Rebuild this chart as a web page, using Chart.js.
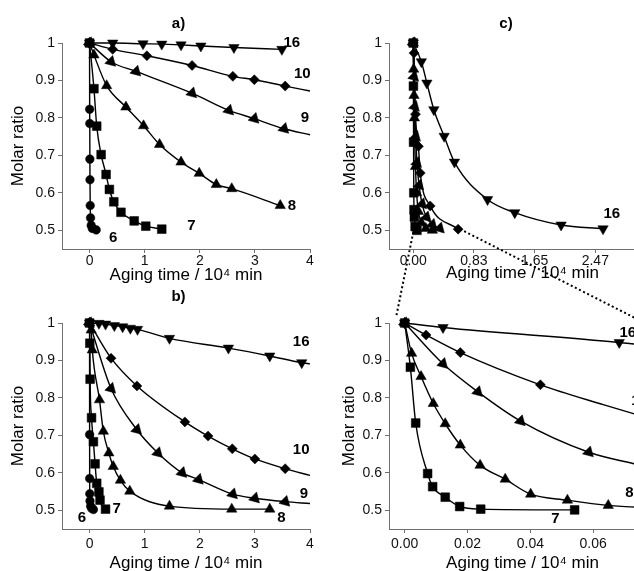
<!DOCTYPE html>
<html>
<head>
<meta charset="utf-8">
<script src="https://cdn.jsdelivr.net/npm/chart.js@4.4.0/dist/chart.umd.min.js"></script>
<style>
html,body{margin:0;padding:0;width:634px;height:571px;overflow:hidden;background:#fff;position:relative;}
canvas{position:absolute;}
#ov{pointer-events:none;}
</style>
</head>
<body>
<canvas id="ca" style="left:0px;top:0px" width="317" height="290"></canvas>
<canvas id="cb" style="left:0px;top:280px" width="317" height="300"></canvas>
<canvas id="cc" style="left:314px;top:0px" width="360" height="290"></canvas>
<canvas id="cd" style="left:314px;top:280px" width="360" height="300"></canvas>
<canvas id="ov" style="left:0px;top:0px" width="634" height="571"></canvas>
<script>
// ---------- tick labels ----------
const yTickValues = [0.5, 0.6, 0.7, 0.8, 0.9, 1.0];
const yTickLabels = ['0.5', '0.6', '0.7', '0.8', '0.9', '1'];
const abTickValues = [0, 1, 2, 3, 4];
const abTickLabels = ['0', '1', '2', '3', '4'];
const cTickValues = [0, 0.825, 1.65, 2.475, 3.3];
const cTickLabels = ['0.00', '0.83', '1.65', '2.47', '3.30'];
const dTickValues = [0, 0.02, 0.04, 0.06, 0.08];
const dTickLabels = ['0.00', '0.02', '0.04', '0.06', '0.08'];
const seriesNames = ['6', '7', '8', '9', '10', '16'];

// ---------- panel a) ----------
const a6X = [0, 0.002, 0.004, 0.006, 0.008, 0.012, 0.018, 0.03, 0.05, 0.12];
const a6Y = [1.0, 0.823, 0.785, 0.69, 0.635, 0.566, 0.533, 0.513, 0.505, 0.501];
const a7X = [0, 0.08, 0.13, 0.21, 0.30, 0.36, 0.44, 0.57, 0.81, 1.02, 1.31];
const a7Y = [1.0, 0.878, 0.778, 0.702, 0.649, 0.609, 0.576, 0.548, 0.525, 0.511, 0.503];
const a8X = [0, 0.08, 0.31, 0.66, 0.98, 1.27, 1.66, 1.99, 2.3, 2.58, 3.46];
const a8Y = [1.0, 0.968, 0.886, 0.829, 0.779, 0.729, 0.682, 0.652, 0.622, 0.611, 0.566];
const a9X = [0, 0.39, 0.845, 1.86, 2.53, 2.99, 3.53];
const a9Y = [1.0, 0.95, 0.924, 0.866, 0.82, 0.798, 0.771];
const a9ExtX = [4.0];
const a9ExtY = [0.755];
const a10X = [0, 0.42, 1.04, 1.86, 2.6, 2.99, 3.55];
const a10Y = [1.0, 0.983, 0.966, 0.94, 0.911, 0.902, 0.885];
const a10ExtX = [4.0];
const a10ExtY = [0.872];
const a16X = [0, 0.42, 0.97, 1.31, 1.66, 2.02, 2.62, 3.49];
const a16Y = [1.0, 1.0, 0.998, 0.997, 0.995, 0.992, 0.988, 0.983];

// ---------- panel b) ----------
const b6X = [0, 0.001, 0.002, 0.004, 0.008, 0.02, 0.04, 0.07];
const b6Y = [1.0, 0.702, 0.585, 0.544, 0.525, 0.511, 0.505, 0.502];
const b7X = [0, 0.005, 0.01, 0.036, 0.07, 0.1, 0.13, 0.17, 0.19, 0.29];
const b7Y = [1.0, 0.946, 0.85, 0.747, 0.683, 0.624, 0.572, 0.549, 0.527, 0.503];
const b8X = [0, 0.03, 0.05, 0.18, 0.25, 0.35, 0.43, 0.56, 0.73, 1.45, 2.58, 3.27];
const b8Y = [1.0, 0.981, 0.928, 0.795, 0.711, 0.653, 0.617, 0.58, 0.551, 0.511, 0.503, 0.503];
const b9X = [0, 0.39, 0.86, 1.24, 1.68, 1.98, 2.6, 3.0, 3.55];
const b9Y = [1.0, 0.825, 0.715, 0.653, 0.6, 0.582, 0.543, 0.532, 0.523];
const b9ExtX = [4.0];
const b9ExtY = [0.518];
const b10X = [0, 0.39, 0.86, 1.73, 2.15, 2.59, 3.0, 3.55];
const b10Y = [1.0, 0.906, 0.832, 0.736, 0.698, 0.664, 0.637, 0.611];
const b10ExtX = [4.0];
const b10ExtY = [0.593];
const b16X = [0, 0.17, 0.29, 0.45, 0.6, 0.74, 0.87, 1.45, 2.52, 3.27, 3.85];
const b16Y = [1.0, 0.999, 0.997, 0.993, 0.99, 0.986, 0.983, 0.959, 0.933, 0.912, 0.894];
const b16ExtX = [4.0];
const b16ExtY = [0.891];

// ---------- panel c) ----------
const c7X = [0, 0.002, 0.004, 0.007, 0.01, 0.015, 0.025, 0.05];
const c7Y = [1.0, 0.885, 0.735, 0.6, 0.555, 0.535, 0.51, 0.5];
const c8X = [0, 0.005, 0.01, 0.015, 0.02, 0.03, 0.045, 0.07, 0.11, 0.17, 0.26];
const c8Y = [1.0, 0.93, 0.86, 0.8, 0.74, 0.67, 0.6, 0.55, 0.52, 0.505, 0.5];
const c9X = [0, 0.01, 0.02, 0.035, 0.05, 0.08, 0.12, 0.18, 0.26, 0.36];
const c9Y = [1.0, 0.91, 0.83, 0.75, 0.68, 0.62, 0.57, 0.535, 0.515, 0.505];
const c10X = [0, 0.01, 0.03, 0.07, 0.095, 0.23, 0.61];
const c10Y = [1.0, 0.973, 0.81, 0.724, 0.653, 0.565, 0.503];
const c16X = [0, 0.11, 0.185, 0.28, 0.42, 0.56, 1.01, 1.38, 2.01, 2.58];
const c16Y = [1.0, 0.95, 0.893, 0.822, 0.751, 0.682, 0.582, 0.547, 0.514, 0.504];

// ---------- panel d) (zoom) ----------
const d7X = [0, 0.0018, 0.0035, 0.0073, 0.0089, 0.0129, 0.0175, 0.0242, 0.0541];
const d7Y = [1.0, 0.882, 0.733, 0.598, 0.563, 0.535, 0.51, 0.503, 0.501];
const d8X = [0, 0.0022, 0.0052, 0.0091, 0.0129, 0.0177, 0.024, 0.032, 0.0401, 0.0518, 0.0648];
const d8Y = [1.0, 0.919, 0.857, 0.785, 0.731, 0.674, 0.62, 0.583, 0.543, 0.527, 0.513];
const d8ExtX = [0.08];
const d8ExtY = [0.506];
const d9X = [0, 0.0122, 0.0233, 0.0369, 0.0586];
const d9Y = [1.0, 0.891, 0.816, 0.738, 0.655];
const d9ExtX = [0.0742, 0.08];
const d9ExtY = [0.622, 0.61];
const d10X = [0, 0.0068, 0.0177, 0.0432];
const d10Y = [1.0, 0.968, 0.921, 0.835];
const d10ExtX = [0.0632, 0.08];
const d10ExtY = [0.782, 0.74];
const d16X = [0, 0.0122, 0.0683];
const d16Y = [1.0, 0.988, 0.948];
const d16ExtX = [0.08];
const d16ExtY = [0.937];

// ---------- styling ----------
const FONT = "'Liberation Sans', Arial, sans-serif";
const AXIS_COLOR = '#707070';
const markerStyle = {
  '6':  { pointStyle: 'circle',   r: 4.3, rot: 0 },
  '7':  { pointStyle: 'rect',     r: 6.2, rot: 0 },
  '8':  { pointStyle: 'triangle', r: 6.0, rot: 0 },
  '9':  { pointStyle: 'triangle', r: 6.5, rot: 255 },
  '10': { pointStyle: 'rectRot',  r: 5.0, rot: 0 },
  '16': { pointStyle: 'triangle', r: 6.0, rot: 180 }
};

function buildDataset(name, xs, ys, extX, extY) {
  const ms = markerStyle[name];
  const pts = xs.map((v, i) => ({ x: v, y: ys[i] }));
  const ext = (extX || []).map((v, i) => ({ x: v, y: extY[i] }));
  const n = pts.length;
  return {
    label: name,
    data: pts.concat(ext),
    borderColor: '#000',
    borderWidth: 1.4,
    backgroundColor: '#000',
    pointBackgroundColor: '#000',
    pointBorderColor: '#000',
    pointBorderWidth: 0.5,
    pointStyle: ms.pointStyle,
    pointRotation: ms.rot,
    pointRadius: ctx => (ctx.dataIndex < n ? ms.r : 0),
    pointHoverRadius: 0,
    cubicInterpolationMode: 'monotone',
    fill: false,
    clip: false
  };
}

const panelDecor = {
  id: 'panelDecor',
  afterDatasetsDraw(chart, args, opts) {
    const { ctx, chartArea, scales } = chart;
    ctx.save();
    ctx.fillStyle = '#000';
    ctx.textAlign = 'center';
    ctx.textBaseline = 'middle';
    ctx.font = 'bold 15px ' + FONT;
    ctx.fillText(opts.title, (chartArea.left + chartArea.right) / 2 + opts.titleDX, chartArea.top + opts.titleDY);
    (opts.labels || []).forEach(l => {
      ctx.fillText(l.text, scales.x.getPixelForValue(l.x), scales.y.getPixelForValue(l.y));
    });
    ctx.restore();
  }
};

function makePanel(id, p) {
  return new Chart(document.getElementById(id), {
    type: 'line',
    data: { datasets: p.datasets },
    plugins: [panelDecor],
    options: {
      responsive: false,
      animation: false,
      devicePixelRatio: 1,
      events: [],
      layout: { padding: { top: 43, right: p.padR, left: 0, bottom: 0 } },
      plugins: {
        legend: { display: false },
        tooltip: { enabled: false },
        panelDecor: { title: p.title, titleDX: p.titleDX, titleDY: p.titleDY, labels: p.labels }
      },
      scales: {
        x: {
          type: 'linear',
          min: p.xMin, max: p.xMax,
          afterBuildTicks: s => { s.ticks = p.xTicks.map(v => ({ value: v })); },
          afterFit: s => { s.height = p.xAxisH; },
          ticks: {
            callback: (v, i) => p.xLabels[i],
            font: { family: FONT, size: 14 }, color: '#111',
            padding: p.xTickPad, maxRotation: 0, autoSkip: false
          },
          grid: { display: true, drawOnChartArea: false, drawTicks: true, tickLength: 4, color: AXIS_COLOR },
          border: { display: true, color: AXIS_COLOR, width: 1 },
          title: {
            display: true, text: 'Aging time / 10⁴ min',
            font: { family: FONT, size: 17 }, color: '#000',
            padding: { top: 0, bottom: p.xTitlePad }
          }
        },
        y: {
          type: 'linear',
          min: 0.45, max: 1.0,
          afterBuildTicks: s => { s.ticks = yTickValues.map(v => ({ value: v })); },
          afterFit: s => { s.width = p.yAxisW; },
          ticks: {
            callback: (v, i) => yTickLabels[i],
            font: { family: FONT, size: 14 }, color: '#111',
            padding: 3, autoSkip: false
          },
          grid: { display: true, drawOnChartArea: false, drawTicks: true, tickLength: 4, color: AXIS_COLOR },
          border: { display: true, color: AXIS_COLOR, width: 1 },
          title: {
            display: true, text: 'Molar ratio',
            font: { family: FONT, size: 17 }, color: '#000',
            padding: { top: p.yTitlePad, bottom: 0 }
          }
        }
      }
    }
  });
}

const chartA = makePanel('ca', {
  datasets: [
    buildDataset('6', a6X, a6Y), buildDataset('7', a7X, a7Y), buildDataset('8', a8X, a8Y),
    buildDataset('9', a9X, a9Y, a9ExtX, a9ExtY), buildDataset('10', a10X, a10Y, a10ExtX, a10ExtY),
    buildDataset('16', a16X, a16Y)
  ],
  xMin: -0.5, xMax: 4, xTicks: abTickValues, xLabels: abTickLabels,
  padR: 6, yAxisW: 62, xAxisH: 41, xTickPad: 0, xTitlePad: 4.8, yTitlePad: 7.8,
  title: 'a)', titleDX: -7.5, titleDY: -19,
  labels: [
    { text: '16', x: 3.67, y: 1.0 }, { text: '10', x: 3.86, y: 0.918 }, { text: '9', x: 3.91, y: 0.80 },
    { text: '8', x: 3.67, y: 0.566 }, { text: '7', x: 1.85, y: 0.511 }, { text: '6', x: 0.43, y: 0.481 }
  ]
});

const chartB = makePanel('cb', {
  datasets: [
    buildDataset('6', b6X, b6Y), buildDataset('7', b7X, b7Y), buildDataset('8', b8X, b8Y),
    buildDataset('9', b9X, b9Y, b9ExtX, b9ExtY), buildDataset('10', b10X, b10Y, b10ExtX, b10ExtY),
    buildDataset('16', b16X, b16Y, b16ExtX, b16ExtY)
  ],
  xMin: -0.5, xMax: 4, xTicks: abTickValues, xLabels: abTickLabels,
  padR: 6, yAxisW: 62, xAxisH: 51, xTickPad: 3, xTitlePad: 6.8, yTitlePad: 7.8,
  title: 'b)', titleDX: -7.5, titleDY: -26,
  labels: [
    { text: '16', x: 3.84, y: 0.949 }, { text: '10', x: 3.84, y: 0.66 }, { text: '9', x: 3.89, y: 0.543 },
    { text: '8', x: 3.48, y: 0.479 }, { text: '7', x: 0.49, y: 0.503 }, { text: '6', x: -0.14, y: 0.481 }
  ]
});

const chartC = makePanel('cc', {
  datasets: [
    buildDataset('7', c7X, c7Y), buildDataset('8', c8X, c8Y), buildDataset('9', c9X, c9Y),
    buildDataset('10', c10X, c10Y), buildDataset('16', c16X, c16Y)
  ],
  xMin: -0.33, xMax: 3.3, xTicks: cTickValues, xLabels: cTickLabels,
  padR: 18, yAxisW: 75, xAxisH: 41, xTickPad: 0, xTitlePad: 6.8, yTitlePad: 26.5,
  title: 'c)', titleDX: -16.5, titleDY: -19,
  labels: [ { text: '16', x: 2.70, y: 0.543 } ]
});

const chartD = makePanel('cd', {
  datasets: [
    buildDataset('7', d7X, d7Y), buildDataset('8', d8X, d8Y, d8ExtX, d8ExtY),
    buildDataset('9', d9X, d9Y, d9ExtX, d9ExtY), buildDataset('10', d10X, d10Y, d10ExtX, d10ExtY),
    buildDataset('16', d16X, d16Y, d16ExtX, d16ExtY)
  ],
  xMin: -0.005, xMax: 0.08, xTicks: dTickValues, xLabels: dTickLabels,
  padR: 18, yAxisW: 75, xAxisH: 51, xTickPad: 3, xTitlePad: 6.5, yTitlePad: 24.8,
  title: '', titleDX: 0, titleDY: 0,
  labels: [
    { text: '16', x: 0.071, y: 0.973 }, { text: '10', x: 0.0748, y: 0.791 }, { text: '9', x: 0.0749, y: 0.657 },
    { text: '8', x: 0.0715, y: 0.547 }, { text: '7', x: 0.048, y: 0.476 }
  ]
});

// ---------- dotted zoom connectors (panel c -> panel d) ----------
const connectors = [
  { from: [0, 0.495], to: [-0.0026, 1.021] },
  { from: [0.636, 0.503], to: [0.08, 0.985] }
];
(function drawConnectors() {
  const ov = document.getElementById('ov');
  const ctx = ov.getContext('2d');
  const cEl = chartC.canvas, dEl = chartD.canvas;
  ctx.save();
  ctx.strokeStyle = '#000';
  ctx.lineWidth = 2;
  ctx.setLineDash([2, 2.6]);
  connectors.forEach(c => {
    const x1 = cEl.offsetLeft + chartC.scales.x.getPixelForValue(c.from[0]);
    const y1 = cEl.offsetTop + chartC.scales.y.getPixelForValue(c.from[1]);
    const x2 = dEl.offsetLeft + chartD.scales.x.getPixelForValue(c.to[0]);
    const y2 = dEl.offsetTop + chartD.scales.y.getPixelForValue(c.to[1]);
    ctx.beginPath();
    ctx.moveTo(x1, y1);
    ctx.lineTo(x2, y2);
    ctx.stroke();
  });
  ctx.restore();
})();
</script>
</body>
</html>
